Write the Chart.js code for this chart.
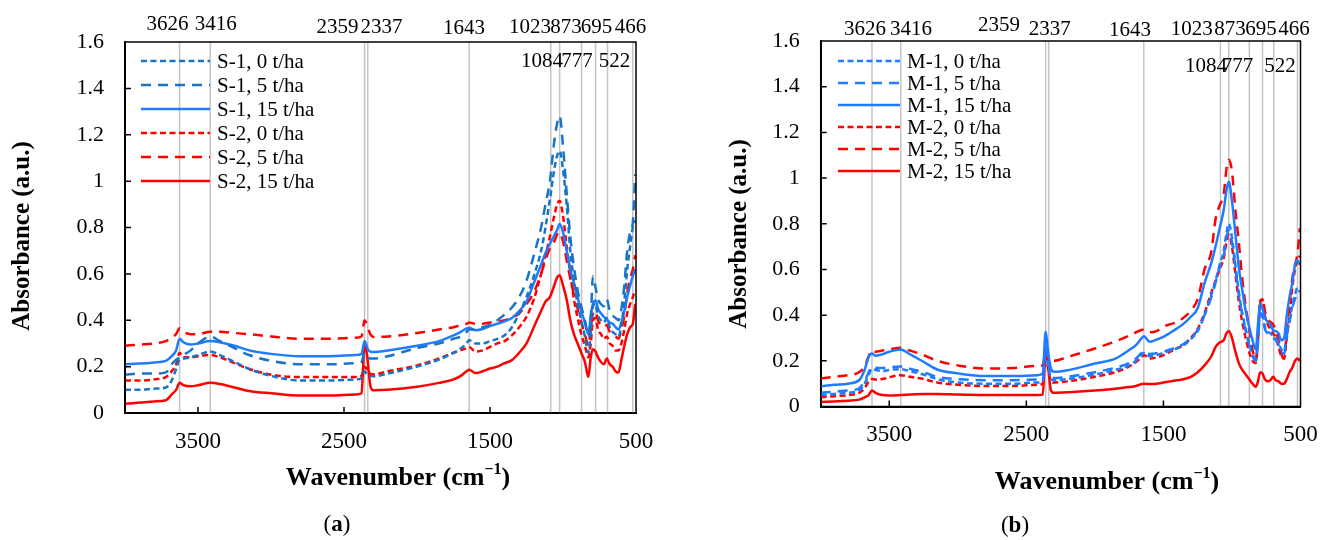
<!DOCTYPE html>
<html lang="en">
<head>
<meta charset="UTF-8">
<title>FTIR spectra</title>
<script src="https://cdn.jsdelivr.net/npm/chart.js"></script>
<style>
  body{margin:0;background:#fff}
  #wrap{position:relative;width:1320px;height:540px}
  .panel{position:absolute;top:0;width:660px;height:540px}
</style>
</head>
<body>
<div id="wrap">
  <div class="panel" style="left:0"><canvas id="chartA" width="660" height="540"></canvas></div>
  <div class="panel" style="left:660px"><canvas id="chartB" width="660" height="540"></canvas></div>
</div>
<script>
// wavenumber grid (cm-1) shared by every spectrum
const wavenumbers=[4000,3900,3800,3720,3680,3650,3626,3600,3550,3500,
  3416,3350,3250,3150,3000,2800,2600,2420,2380,2359,
  2345,2337,2320,2300,2200,2000,1850,1750,1700,1660,
  1643,1600,1550,1500,1450,1400,1350,1300,1250,1200,
  1150,1120,1090,1060,1040,1023,1000,975,950,925,
  900,875,850,826,810,795,777,760,740,720,
  700,680,660,640,620,600,580,560,540,522,
  505];

const peaks=[3626,3416,2359,2337,1643,1084,1023,873,777,695,522,466];
const xTicks=[500,1500,2500,3500];
const yTicks=[0.2,0.4,0.6,0.8,1,1.2,1.4];

// panel (a)
const s1_0=[.10,.10,.105,.11,.14,.19,.23,.235,.24,.25,
  .265,.25,.22,.19,.16,.14,.14,.145,.15,.18,
  .17,.165,.16,.158,.17,.20,.23,.26,.278,.30,
  .314,.30,.30,.31,.32,.335,.37,.43,.50,.59,
  .70,.80,.92,1.05,1.11,1.13,1.05,.90,.70,.57,
  .47,.40,.33,.26,.35,.46,.47,.42,.40,.39,
  .41,.37,.35,.34,.33,.38,.48,.62,.72,.80,
  .83];
const s1_5=[.165,.17,.17,.175,.21,.23,.24,.25,.27,.30,
  .33,.31,.28,.25,.225,.21,.21,.215,.22,.26,
  .25,.24,.235,.235,.245,.28,.30,.32,.33,.35,
  .36,.36,.37,.38,.40,.425,.455,.50,.57,.68,
  .80,.90,1.0,1.17,1.25,1.28,1.15,.95,.76,.63,
  .53,.46,.40,.33,.40,.59,.54,.49,.47,.46,
  .49,.44,.42,.41,.40,.45,.55,.70,.78,.82,
  1.03];
const s1_15=[.21,.213,.218,.225,.245,.27,.32,.305,.295,.30,
  .31,.305,.29,.27,.255,.245,.245,.25,.255,.31,
  .29,.275,.265,.263,.27,.29,.31,.335,.35,.365,
  .368,.357,.362,.375,.385,.395,.41,.44,.48,.56,
  .64,.69,.73,.765,.79,.815,.78,.70,.62,.56,
  .50,.44,.39,.34,.42,.47,.485,.45,.43,.415,
  .405,.39,.385,.37,.36,.39,.44,.50,.55,.59,
  .62];
const s2_0=[.14,.14,.145,.155,.18,.21,.26,.24,.24,.245,
  .25,.24,.215,.19,.165,.155,.155,.155,.16,.20,
  .19,.18,.17,.167,.18,.205,.235,.26,.271,.28,
  .285,.265,.27,.285,.30,.31,.335,.37,.415,.49,
  .60,.68,.76,.85,.90,.915,.85,.72,.60,.49,
  .41,.34,.29,.24,.30,.40,.41,.36,.34,.32,
  .33,.30,.29,.27,.27,.30,.36,.43,.47,.50,
  .53];
const s2_5=[.29,.295,.30,.31,.325,.34,.365,.35,.34,.34,
  .35,.35,.345,.34,.33,.32,.32,.325,.33,.40,
  .385,.37,.34,.328,.33,.345,.36,.37,.379,.385,
  .39,.385,.385,.39,.393,.40,.41,.43,.47,.52,
  .60,.66,.71,.74,.77,.78,.74,.66,.58,.51,
  .45,.39,.34,.29,.36,.43,.44,.40,.38,.37,
  .38,.35,.34,.33,.32,.36,.42,.52,.58,.62,
  .68];
const s2_15=[.04,.045,.05,.055,.08,.10,.13,.12,.115,.12,
  .13,.125,.11,.095,.085,.075,.075,.08,.085,.30,
  .26,.22,.12,.098,.10,.113,.13,.145,.16,.18,
  .187,.172,.18,.192,.20,.215,.228,.26,.30,.37,
  .44,.48,.50,.55,.585,.594,.55,.49,.40,.34,
  .30,.26,.22,.155,.24,.275,.265,.24,.22,.21,
  .235,.21,.20,.18,.175,.23,.29,.34,.37,.385,
  .47];

// panel (b)
const m1_0=[.05,.055,.06,.07,.10,.14,.165,.16,.155,.16,
  .163,.155,.14,.12,.105,.10,.10,.105,.11,.26,
  .20,.17,.12,.115,.12,.14,.16,.18,.20,.225,
  .235,.22,.225,.235,.245,.255,.27,.295,.33,.40,
  .49,.55,.62,.68,.76,.80,.74,.62,.50,.41,
  .34,.28,.23,.21,.29,.42,.40,.35,.33,.32,
  .31,.30,.28,.25,.24,.32,.38,.44,.49,.52,
  .50];
const m1_5=[.06,.065,.07,.08,.11,.15,.175,.17,.168,.172,
  .175,.165,.15,.13,.12,.115,.115,.118,.12,.27,
  .21,.18,.13,.125,.13,.15,.17,.19,.21,.235,
  .243,.23,.233,.24,.25,.26,.275,.30,.335,.40,
  .48,.54,.61,.66,.74,.77,.72,.61,.49,.40,
  .33,.27,.22,.20,.28,.41,.39,.34,.32,.31,
  .30,.29,.27,.24,.23,.31,.37,.43,.47,.49,
  .48];
const m1_15=[.089,.095,.10,.115,.16,.217,.232,.222,.229,.24,
  .25,.229,.196,.162,.145,.133,.133,.137,.145,.327,
  .26,.22,.166,.152,.159,.188,.21,.247,.269,.298,
  .308,.283,.293,.305,.323,.342,.364,.393,.43,.54,
  .63,.70,.78,.86,.947,.984,.90,.758,.61,.51,
  .42,.35,.29,.25,.36,.45,.43,.39,.37,.36,
  .334,.33,.32,.29,.30,.40,.48,.54,.62,.64,
  .62];
const m2_0=[.04,.045,.05,.06,.08,.11,.12,.118,.12,.128,
  .137,.13,.12,.105,.095,.09,.09,.095,.10,.24,
  .18,.15,.11,.105,.11,.13,.15,.175,.195,.215,
  .225,.21,.215,.225,.24,.255,.27,.30,.34,.41,
  .50,.55,.60,.65,.72,.75,.70,.58,.46,.37,
  .30,.24,.20,.19,.30,.46,.47,.40,.36,.34,
  .32,.30,.26,.22,.21,.30,.40,.52,.60,.64,
  .66];
const m2_5=[.123,.13,.137,.15,.175,.22,.247,.24,.245,.25,
  .257,.245,.225,.20,.18,.166,.168,.178,.18,.25,
  .23,.215,.20,.20,.217,.254,.285,.31,.325,.335,
  .337,.325,.33,.35,.36,.37,.39,.42,.47,.60,
  .68,.82,.88,.93,1.04,1.08,1.03,.86,.72,.56,
  .44,.34,.25,.20,.30,.45,.47,.42,.38,.37,
  .36,.33,.29,.23,.21,.33,.45,.56,.62,.67,
  .78];
const m2_15=[.02,.022,.025,.03,.04,.05,.07,.06,.05,.048,
  .05,.052,.055,.055,.052,.05,.05,.05,.052,.26,
  .20,.15,.07,.06,.062,.07,.078,.085,.09,.098,
  .10,.098,.10,.105,.11,.115,.12,.13,.15,.18,
  .22,.26,.28,.29,.32,.33,.30,.24,.19,.16,
  .14,.12,.10,.086,.11,.15,.145,.12,.11,.115,
  .13,.115,.11,.10,.10,.12,.15,.17,.20,.21,
  .20];

const serif="'Liberation Serif','Times New Roman',serif";
const RED='#FF0000', BLUE='#1F7BFF', BLUE_D='#1874C6';
const DOT=[6,3.5], DASH=[10,7];

function series(label,values,color,dash){
  return {label,data:wavenumbers.map((w,i)=>({x:w,y:values[i]})),
    borderColor:color,borderDash:dash,borderWidth:2.5,pointRadius:0,
    fill:false,cubicInterpolationMode:'monotone'};
}

function decor(cfg){
  return {
    id:'decor',
    beforeDatasetsDraw(chart){
      const {ctx,chartArea:a,scales:{x}}=chart;
      ctx.save();
      ctx.beginPath();ctx.rect(a.left,a.top,a.right-a.left,a.bottom-a.top);ctx.clip();
      ctx.strokeStyle='#C4C4C4';ctx.lineWidth=1.5;
      peaks.forEach(p=>{
        const px=x.getPixelForValue(p);
        ctx.beginPath();ctx.moveTo(px,a.top);ctx.lineTo(px,a.bottom);ctx.stroke();
      });
      ctx.restore();
    },
    afterDraw(chart){
      const {ctx,chartArea:a,scales:{x,y}}=chart;
      ctx.save();
      // frame + inside ticks
      ctx.strokeStyle='#000';ctx.lineWidth=1.5;
      ctx.strokeRect(a.left,a.top,a.right-a.left,a.bottom-a.top);
      ctx.beginPath();
      yTicks.forEach(v=>{const py=y.getPixelForValue(v);ctx.moveTo(a.left,py);ctx.lineTo(a.left+6,py);});
      xTicks.slice(1).forEach(v=>{const px=x.getPixelForValue(v);ctx.moveTo(px,a.bottom);ctx.lineTo(px,a.bottom-6);});
      ctx.stroke();

      // peak labels
      ctx.fillStyle='#000';ctx.textAlign='center';ctx.textBaseline='middle';
      ctx.font=`21px ${serif}`;
      cfg.peakLabels.forEach(l=>ctx.fillText(l.t,l.x,l.y));

      // legend
      const lg=cfg.legend;
      chart.data.datasets.forEach((ds,i)=>{
        const ly=lg.y+i*lg.dy;
        ctx.strokeStyle=ds.borderColor;ctx.lineWidth=2.5;ctx.setLineDash(ds.borderDash);
        ctx.beginPath();ctx.moveTo(lg.x0,ly);ctx.lineTo(lg.x1,ly);ctx.stroke();
        ctx.setLineDash([]);
        ctx.textAlign='left';ctx.font=`21px ${serif}`;ctx.fillStyle='#000';
        ctx.fillText(ds.label,lg.tx,ly+1);
      });

      // y title
      ctx.save();
      ctx.translate(cfg.yTitle.x,cfg.yTitle.y);ctx.rotate(-Math.PI/2);
      ctx.textAlign='center';ctx.font=`bold 25px ${serif}`;
      ctx.fillText('Absorbance (a.u.)',0,0);
      ctx.restore();

      // x title with superscript
      const main='Wavenumber (cm', sup='\u22121', end=')';
      ctx.textAlign='left';
      ctx.font=`bold 26px ${serif}`;
      const w1=ctx.measureText(main).width, w3=ctx.measureText(end).width;
      ctx.font=`bold 16px ${serif}`;
      const w2=ctx.measureText(sup).width;
      let sx=cfg.xTitle.x-(w1+w2+w3)/2;
      ctx.font=`bold 26px ${serif}`;ctx.fillText(main,sx,cfg.xTitle.y);
      ctx.font=`bold 16px ${serif}`;ctx.fillText(sup,sx+w1,cfg.xTitle.y-8);
      ctx.font=`bold 26px ${serif}`;ctx.fillText(end,sx+w1+w2,cfg.xTitle.y);

      // caption
      ctx.font=`23px ${serif}`;const p1=ctx.measureText('(').width;
      ctx.font=`bold 23px ${serif}`;const p2=ctx.measureText(cfg.caption).width;
      let cx=cfg.capPos.x-(2*p1+p2)/2;
      ctx.font=`23px ${serif}`;ctx.fillText('(',cx,cfg.capPos.y);
      ctx.font=`bold 23px ${serif}`;ctx.fillText(cfg.caption,cx+p1,cfg.capPos.y);
      ctx.font=`23px ${serif}`;ctx.fillText(')',cx+p1+p2,cfg.capPos.y);
      ctx.restore();
    }
  };
}

function makeChart(id,datasets,cfg){
  const A=cfg.area;
  return new Chart(document.getElementById(id),{
    type:'line',
    data:{datasets},
    options:{
      responsive:false,animation:false,
      layout:{padding:{left:0,top:A.top,right:660-A.right,bottom:0}},
      plugins:{legend:{display:false},tooltip:{enabled:false}},
      scales:{
        x:{type:'linear',reverse:true,min:500,max:4000,
          afterBuildTicks:ax=>{ax.ticks=xTicks.map(v=>({value:v}));},
          afterFit:ax=>{ax.height=540-A.bottom;},
          grid:{display:false,drawTicks:false},
          border:{display:true,color:'#000',width:2},
          ticks:{color:'#000',font:{family:serif,size:23},padding:15,maxRotation:0,autoSkip:false,
            callback:v=>String(v)}},
        y:{min:0,max:1.6,
          afterFit:ax=>{ax.width=A.left;},
          grid:{display:false,drawTicks:false},
          border:{display:true,color:'#000',width:2},
          ticks:{stepSize:0.2,color:'#000',font:{family:serif,size:22},padding:21,
            callback:v=>String(Math.round(v*10)/10)}}
      }
    },
    plugins:[decor(cfg)]
  });
}

makeChart('chartA',[
  series('S-1, 0 t/ha',s1_0,BLUE_D,DOT),
  series('S-1, 5 t/ha',s1_5,BLUE_D,DASH),
  series('S-1, 15 t/ha',s1_15,BLUE,[]),
  series('S-2, 0 t/ha',s2_0,RED,DOT),
  series('S-2, 5 t/ha',s2_5,RED,DASH),
  series('S-2, 15 t/ha',s2_15,RED,[])
],{
  area:{left:125,right:636,top:42,bottom:413},
  legend:{x0:141,x1:210,tx:217,y:61,dy:24},
  yTitle:{x:23,y:236},xTitle:{x:398,y:478},capPos:{x:337,y:525},caption:'a',
  peakLabels:[{t:'3626',x:167.6,y:24},{t:'3416',x:215.8,y:24},{t:'2359',x:337.5,y:27},
    {t:'2337',x:381.6,y:27},{t:'1643',x:464,y:28.5},{t:'1023',x:530,y:27},{t:'873',x:566,y:27},
    {t:'695',x:596.5,y:27},{t:'466',x:630.5,y:27},{t:'1084',x:542,y:61},{t:'777',x:577,y:61},
    {t:'522',x:614.5,y:61}]
});

makeChart('chartB',[
  series('M-1, 0 t/ha',m1_0,BLUE,DOT),
  series('M-1, 5 t/ha',m1_5,BLUE,DASH),
  series('M-1, 15 t/ha',m1_15,BLUE,[]),
  series('M-2, 0 t/ha',m2_0,RED,DOT),
  series('M-2, 5 t/ha',m2_5,RED,DASH),
  series('M-2, 15 t/ha',m2_15,RED,[])
],{
  area:{left:160.7,right:640.5,top:41,bottom:406.5},
  legend:{x0:178,x1:240,tx:247,y:61,dy:22},
  yTitle:{x:80,y:234},xTitle:{x:447,y:482},capPos:{x:355,y:526},caption:'b',
  peakLabels:[{t:'3626',x:205,y:29},{t:'3416',x:251,y:29},{t:'2359',x:339,y:25},
    {t:'2337',x:389.7,y:29},{t:'1643',x:470,y:30},{t:'1023',x:531.7,y:29},{t:'873',x:570,y:29},
    {t:'695',x:601,y:29},{t:'466',x:634,y:29},{t:'1084',x:546,y:66},{t:'777',x:577.5,y:66},
    {t:'522',x:620,y:66}]
});
</script>
</body>
</html>
